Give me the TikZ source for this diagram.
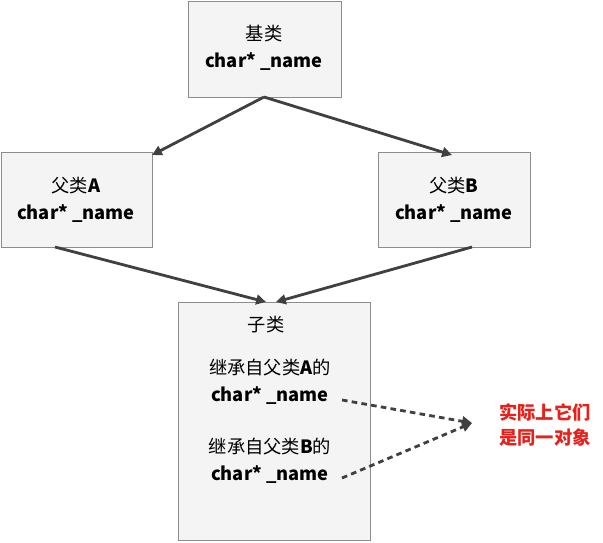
\documentclass[tikz,border=0pt]{standalone}
\usepackage{fontspec}
\setmainfont{Noto Sans CJK SC}
\usetikzlibrary{positioning,arrows.meta}
\definecolor{boxfill}{HTML}{F4F4F4}
\definecolor{boxline}{HTML}{8C8C8C}
\definecolor{arrowgray}{HTML}{404040}
\definecolor{notered}{HTML}{E8201A}

\begin{document}
\begin{tikzpicture}[x=0.025cm, y=-0.025cm,
  classbox/.style={draw=boxline, fill=boxfill, line width=0.6pt},
  txt/.style={font=\fontsize{13}{15}\selectfont, inner sep=1pt},
  inherit/.style={-{Triangle[length=7pt,width=7pt]}, arrowgray, line width=2pt},
  same/.style={-{Triangle[length=7pt,width=7pt]}, arrowgray, line width=2pt, dash pattern=on 4pt off 3pt}]
\useasboundingbox (0,0) rectangle (603,542);

\draw[classbox] (188,1) rectangle (341,97);
\draw[classbox] (1,152) rectangle (152,247);
\draw[classbox] (378,152) rectangle (530,247);
\draw[classbox] (178,302) rectangle (370,540);

\node[txt] (base) at (264,34) {基类};
\node[txt] (basename) at (264,62) {\textbf{char* \_name}};
\node[txt] (parenta) at (76,186) {父类\textbf{A}};
\node[txt] (parentaname) at (76,214) {\textbf{char* \_name}};
\node[txt] (parentb) at (454,186) {父类\textbf{B}};
\node[txt] (parentbname) at (454,214) {\textbf{char* \_name}};
\node[txt] (child) at (266,325) {子类};
\node[txt] (froma) at (270,368) {继承自父类\textbf{A}的};
\node[txt] (fromaname) at (270,396) {\textbf{char* \_name}};
\node[txt] (fromb) at (270,447) {继承自父类\textbf{B}的};
\node[txt] (frombname) at (270,475) {\textbf{char* \_name}};
\node[txt, text=notered, font=\fontsize{13}{15}\selectfont\bfseries, align=center] (note) at (545,425) {实际上它们\\[3pt]是同一对象};

\coordinate (basebot) at (264,97);
\coordinate (atop) at (152,155);
\coordinate (btop) at (452,155);
\coordinate (abot) at (55,247);
\coordinate (bbot) at (472,247);
\coordinate (childtopl) at (266,302);
\coordinate (childtopr) at (276,302);
\coordinate (astart) at (342,400);
\coordinate (bstart) at (342,478);
\coordinate (meet) at (472,423);

\draw[inherit] (basebot) -- (atop);
\draw[inherit] (basebot) -- (btop);
\draw[inherit] (abot) -- (childtopl);
\draw[inherit] (bbot) -- (childtopr);
\draw[same] (astart) -- (meet);
\draw[same] (bstart) -- (meet);
\end{tikzpicture}
\end{document}
